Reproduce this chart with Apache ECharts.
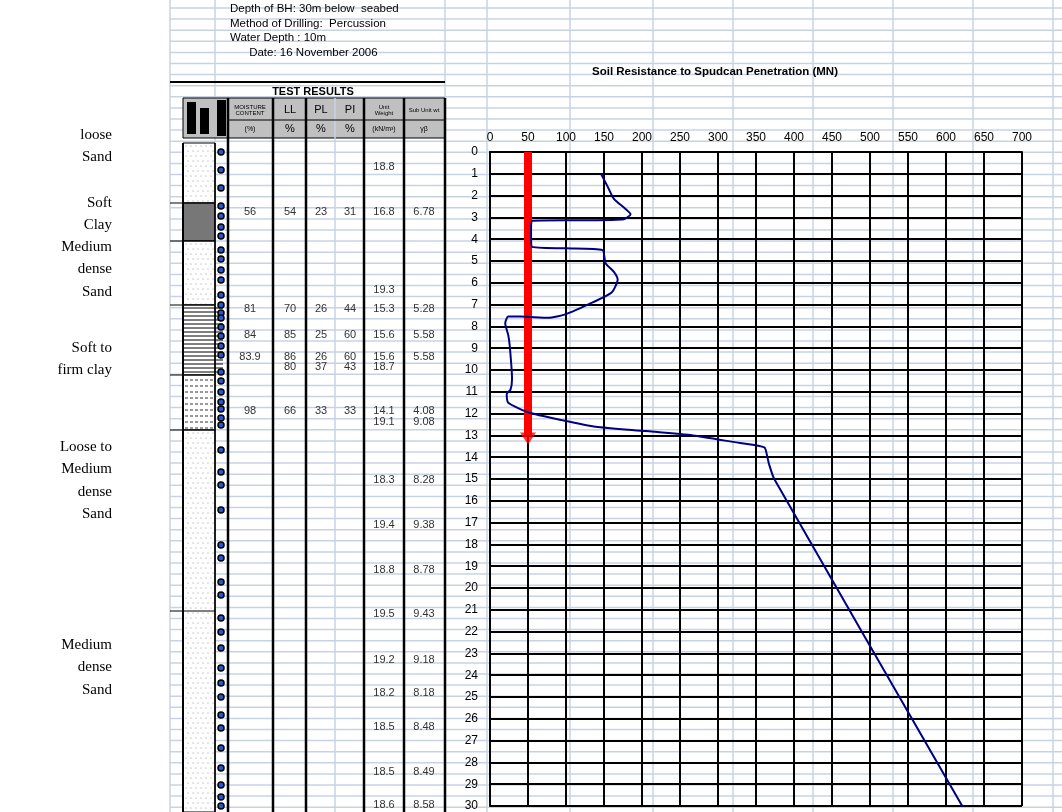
<!DOCTYPE html>
<html>
<head>
<meta charset="utf-8">
<title>Spudcan penetration</title>
<script src="https://cdn.jsdelivr.net/npm/echarts@6/dist/echarts.min.js"></script>
<style>
  html,body{margin:0;padding:0;background:#fff;}
</style>
</head>
<body>
<div id="main" style="width:1062px;height:812px;"></div>
<script type="text/javascript">
// penetration curve: [resistance MN, depth m]
var curve = [
  [146,1.0],[155,1.6],[163,2.15],[178,2.6],[185,2.85],[176,3.08],[120,3.13],[55,3.16],
  [54,3.6],[55,4.35],[100,4.42],[148,4.5],[152,5.1],[163,5.5],[168,5.85],[160,6.45],
  [135,6.9],[99,7.45],[77,7.6],[40,7.55],[24,7.55],[20,7.85],[24,8.4],[26,8.9],[29,10.4],
  [27,10.9],[22,11.1],[24,11.5],[51,11.95],[95,12.3],[139,12.6],[205,12.8],[267,13.0],
  [329,13.35],[361,13.55],[365,14.0],[367,14.3],[374,15.0],[623,30.1]
];
var arrowLine = [[50,0],[50,13.0]];
var xTicks = [0,700,50];
var yTicks = [0,30,1];

// borehole table
var headerLines = ['Depth of BH: 30m below  seabed','Method of Drilling:  Percussion','Water Depth : 10m','      Date: 16 November 2006'];
var moisture = ['', '56', '', '81', '84', '83.9', '', '98', '', '', '', '', '', '', '', '', '', ''];
var LL       = ['', '54', '', '70', '85', '86', '80', '66', '', '', '', '', '', '', '', '', '', ''];
var PL       = ['', '23', '', '26', '25', '26', '37', '33', '', '', '', '', '', '', '', '', '', ''];
var PI       = ['', '31', '', '44', '60', '60', '43', '33', '', '', '', '', '', '', '', '', '', ''];
var unitWt   = ['18.8','16.8','19.3','15.3','15.6','15.6','18.7','14.1','19.1','18.3','19.4','18.8','19.5','19.2','18.2','18.5','18.5','18.6'];
var subWt    = ['', '6.78', '', '5.28', '5.58', '5.58', '', '4.08', '9.08', '8.28', '9.38', '8.78', '9.43', '9.18', '8.18', '8.48', '8.49', '8.58'];
var layerNames = [['loose','Sand'],['Soft','Clay'],['Medium','dense','Sand'],['Soft to','firm clay'],['Loose to','Medium','dense','Sand'],['Medium','dense','Sand']];

// layout (pixels)
var rowY = [167,212,290,309,335,357,367,411,422,480,525,570,614,660,693,727,772,805];
var layerY = [135,203,247,348,447,645];
var colX = [250,290,321,350,384,424];
var sampleY = [152,170,188,206,216,227,236,250,259,270,280,295,305,313,318,327,336,346,355,372,381,392,402,409,418,425,450,472,485,510,545,558,582,595,618,632,648,668,683,697,715,728,748,768,785,797,806];

var els = [];
var light = '#c8d2e4';
// spreadsheet background
for (var y = 8; y < 812; y += 11.1) {
  els.push({type:'line', z:0, shape:{x1:170,y1:y,x2:1062,y2:y}, style:{stroke:light,lineWidth:1.5}});
}
[170,215,445,487,570,653,733,813,893,973,1053].forEach(function(x){
  els.push({type:'line', z:0, shape:{x1:x,y1:0,x2:x,y2:812}, style:{stroke:light,lineWidth:1.5}});
});
// header texts
headerLines.forEach(function(t,i){
  els.push({type:'text', z:5, style:{x:230,y:3+i*14.5,text:t,font:'11.5px Arial',fill:'#000'}});
});
els.push({type:'text', z:5, style:{x:313,y:86,text:'TEST RESULTS',font:'bold 11px Arial',fill:'#000',align:'center'}});
els.push({type:'line', z:5, shape:{x1:170,y1:82,x2:445,y2:82}, style:{stroke:'#000',lineWidth:2}});
// header grey block
els.push({type:'rect', z:3, shape:{x:183,y:98,width:262,height:40}, style:{fill:'#c0c0c0',stroke:'#000',lineWidth:1}});
els.push({type:'rect', z:5, shape:{x:187,y:102,width:9,height:32}, style:{fill:'#000'}});
els.push({type:'rect', z:5, shape:{x:200,y:108,width:9,height:26}, style:{fill:'#000'}});
els.push({type:'rect', z:5, shape:{x:217,y:100,width:9,height:36}, style:{fill:'#000'}});
els.push({type:'line', z:5, shape:{x1:228,y1:120,x2:445,y2:120}, style:{stroke:'#000',lineWidth:1}});
var hdr = [['MOISTURE\nCONTENT','(%)','6px'],['LL','%','11px'],['PL','%','11px'],['PI','%','11px'],['Unit\nWeight','(kN/m³)','6px'],['Sub Unit wt','γβ','6px']];
hdr.forEach(function(h,i){
  els.push({type:'text', z:6, style:{x:colX[i],y:110,text:h[0],font:h[2]+' Arial',fill:'#000',align:'center',verticalAlign:'middle'}});
  els.push({type:'text', z:6, style:{x:colX[i],y:129,text:h[1],font:(i>0&&i<4?'11px':'7px')+' Arial',fill:'#000',align:'center',verticalAlign:'middle'}});
});
// table column lines
[[228,3],[273,3],[306,3],[335,1],[364,3],[404,3],[445,3]].forEach(function(c){
  els.push({type:'line', z:4, shape:{x1:c[0],y1:98,x2:c[0],y2:812}, style:{stroke:c[1]>1?'#000':light,lineWidth:c[1]>1?2.5:1.5}});
});
// strata column
var strata = [[143,203,'#fff'],[203,241,'#777'],[241,305,'#fff'],[305,375,'#fff'],[375,430,'#fff'],[430,812,'#fff']];
strata.forEach(function(s){
  els.push({type:'rect', z:3, shape:{x:183,y:s[0],width:32,height:s[1]-s[0]}, style:{fill:s[2],stroke:'#000',lineWidth:1}});
});
for (var ly = 308; ly < 375; ly += 4) els.push({type:'line', z:4, shape:{x1:184,y1:ly,x2:223,y2:ly}, style:{stroke:'#000',lineWidth:1}});
for (var dy = 380; dy < 430; dy += 6) els.push({type:'line', z:4, shape:{x1:185,y1:dy,x2:213,y2:dy}, style:{stroke:'#000',lineWidth:0.8,lineDash:[3,2]}});
[[143,203],[241,305],[430,812]].forEach(function(s){
  for (var yy = s[0]+3; yy < s[1]; yy += 5)
    for (var xx = 186 + (yy%2?2:0); xx < 214; xx += 5)
      els.push({type:'circle', z:4, shape:{cx:xx,cy:yy,r:0.45}, style:{fill:'#333'}});
});
[203,241,305,375,430,611].forEach(function(y){
  els.push({type:'line', z:4, shape:{x1:170,y1:y,x2:215,y2:y}, style:{stroke:'#000',lineWidth:1}});
});
els.push({type:'line', z:4, shape:{x1:183,y1:143,x2:183,y2:812}, style:{stroke:'#000',lineWidth:2}});
els.push({type:'line', z:4, shape:{x1:215,y1:143,x2:215,y2:812}, style:{stroke:'#000',lineWidth:1.5}});
// sample markers
sampleY.forEach(function(y){
  els.push({type:'circle', z:6, shape:{cx:221,cy:y,r:3}, style:{fill:'#1e5bd8',stroke:'#000',lineWidth:1.5}});
});
// table values
rowY.forEach(function(y,i){
  [moisture[i],LL[i],PL[i],PI[i],unitWt[i],subWt[i]].forEach(function(v,j){
    if (v) els.push({type:'text', z:6, style:{x:colX[j],y:y,text:v,font:'11px Arial',fill:'#333',align:'center',verticalAlign:'middle'}});
  });
});
// layer descriptions
layerNames.forEach(function(ln,i){
  ln.forEach(function(t,k){
    els.push({type:'text', z:6, style:{x:112,y:layerY[i]+k*22.5,text:t,font:'15px "Liberation Serif", serif',fill:'#000',align:'right',verticalAlign:'middle'}});
  });
});
els.push({type:'text', z:6, style:{x:715,y:72,text:'Soil Resistance to Spudcan Penetration (MN)',font:'bold 11.5px Arial',fill:'#000',align:'center',verticalAlign:'middle'}});

var myChart = echarts.init(document.getElementById('main'));
myChart.setOption({
  backgroundColor: '#fff',
  animation: false,
  graphic: {elements: els},
  grid: {left: 490, right: 40, top: 152, bottom: -4, containLabel: false},
  xAxis: {
    type: 'value', position: 'top', min: xTicks[0], max: xTicks[1], interval: xTicks[2],
    axisLine: {show: true, lineStyle: {color: '#000', width: 2}},
    axisTick: {show: false},
    axisLabel: {color: '#000', fontFamily: 'Arial', fontSize: 12, margin: 8},
    splitLine: {show: true, lineStyle: {color: '#000', width: 2}}
  },
  yAxis: {
    type: 'value', inverse: true, min: yTicks[0], max: yTicks[1], interval: yTicks[2],
    axisLine: {show: true, lineStyle: {color: '#000', width: 2}},
    axisTick: {show: false},
    axisLabel: {color: '#000', fontFamily: 'Arial', fontSize: 12, margin: 12},
    splitLine: {show: true, lineStyle: {color: '#000', width: 2}}
  },
  series: [
    {type: 'line', data: arrowLine, symbol: 'none', z: 5,
     lineStyle: {color: '#ff0000', width: 8}},
    {type: 'scatter', data: [arrowLine[1]], symbol: 'triangle', symbolRotate: 180,
     symbolSize: [16, 12], symbolOffset: [0, 3], z: 6, itemStyle: {color: '#ff0000'}},
    {type: 'line', data: curve, symbol: 'none', smooth: 0.2, z: 7,
     lineStyle: {color: '#000080', width: 2}}
  ]
});
</script>
</body>
</html>
